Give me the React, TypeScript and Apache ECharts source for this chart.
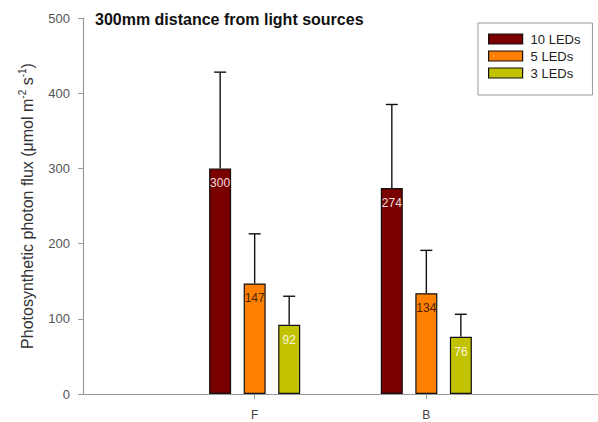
import React, { useEffect, useRef } from "react";
import * as echarts from "echarts";

const categories = ["", "F", "B", ""];
const seriesNames = ["10 LEDs", "5 LEDs", "3 LEDs"];
const leds10 = [null, 300, 274, null];
const leds5 = [null, 147, 134, null];
const leds3 = [null, 92, 76, null];
const err10 = [null, 428, 385, null];
const err5 = [null, 213, 191, null];
const err3 = [null, 130, 106, null];
const yTicks = [0, 100, 200, 300, 400, 500];

const colors = ["#7a0000", "#ff8000", "#c2c200"];
const labelColors = ["#f3dede", "#4a2200", "#f6f6dc"];
const offsets = [-34.5, 0, 34.5];
const FONT = "Liberation Sans, Arial, sans-serif";

export default function App() {
  const ref = useRef<HTMLDivElement>(null);
  useEffect(() => {
    if (!ref.current) return;
    const chart = echarts.init(ref.current, null, { renderer: "svg" });
    const values = [leds10, leds5, leds3];
    const errs = [err10, err5, err3];
    const barSeries = values.map((vals, si) => ({
      type: "bar",
      name: seriesNames[si],
      data: vals,
      barWidth: 22,
      barGap: "57%",
      itemStyle: { color: colors[si], borderColor: "#111", borderWidth: 1.2 },
      label: {
        show: true,
        position: "insideTop",
        distance: 9,
        color: labelColors[si],
        fontSize: 12,
        fontFamily: FONT,
      },
      z: 2,
    }));
    const errSeries = values.map((vals, si) => ({
      type: "custom",
      name: "err" + si,
      data: vals
        .map((v, i) => (v == null ? null : [i, v, errs[si][i]]))
        .filter((d) => d !== null),
      renderItem: (params: any, api: any) => {
        const idx = api.value(0);
        const base = api.coord([idx, api.value(1)]);
        const top = api.coord([idx, api.value(2)]);
        const x = base[0] + offsets[si];
        return {
          type: "group",
          children: [
            {
              type: "line",
              shape: { x1: x, y1: base[1], x2: x, y2: top[1] },
              style: { stroke: "#111", lineWidth: 1.4 },
            },
            {
              type: "line",
              shape: { x1: x - 6, y1: top[1], x2: x + 6, y2: top[1] },
              style: { stroke: "#111", lineWidth: 1.4 },
            },
          ],
        };
      },
      z: 3,
      silent: true,
    }));
    chart.setOption({
      animation: false,
      backgroundColor: "#ffffff",
      title: {
        text: "300mm distance from light sources",
        left: 95,
        top: 11,
        padding: 0,
        textStyle: { fontSize: 16, fontWeight: "bold", color: "#111", fontFamily: FONT },
      },
      legend: {
        data: seriesNames,
        orient: "vertical",
        left: 478,
        top: 23,
        itemWidth: 34,
        itemHeight: 10,
        itemGap: 3,
        icon: "rect",
        padding: [9, 12, 15, 10],
        borderColor: "#999",
        borderWidth: 1,
        textStyle: { fontSize: 13, color: "#222", fontFamily: FONT, lineHeight: 14, padding: [0, 0, 0, 3] },
        itemStyle: { borderColor: "#111", borderWidth: 1.2 },
      },
      grid: { left: 83, top: 18, bottom: 28, width: 522 },
      xAxis: {
        type: "category",
        data: categories,
        boundaryGap: false,
        axisLine: { lineStyle: { color: "#999", width: 1.2 } },
        axisTick: { interval: (i: number) => i === 1 || i === 2, length: 5, lineStyle: { color: "#999" } },
        axisLabel: { interval: (i: number) => i === 1 || i === 2, fontSize: 12, color: "#444", margin: 15, fontFamily: FONT },
      },
      yAxis: {
        type: "value",
        min: yTicks[0],
        max: yTicks[yTicks.length - 1],
        interval: 100,
        axisLine: { show: true, lineStyle: { color: "#999", width: 1.2 } },
        axisTick: { show: true, length: 5, lineStyle: { color: "#999" } },
        splitLine: { show: false },
        axisLabel: { fontSize: 13, color: "#555", margin: 13, fontFamily: FONT },
        name: "Photosynthetic photon flux (μmol m{sup|-2} s{sup|-1})",
        nameLocation: "middle",
        nameRotate: 90,
        nameGap: 46,
        nameTextStyle: {
          fontSize: 16,
          color: "#333",
          fontFamily: FONT,
          lineHeight: 20,
          rich: {
            sup: { fontSize: 10, verticalAlign: "top", lineHeight: 20, color: "#333", fontFamily: FONT },
          },
        },
      },
      series: [...barSeries, ...errSeries],
    });
    return () => chart.dispose();
  }, []);
  return (
    <div
      ref={ref}
      style={{ position: "fixed", left: 0, top: 0, width: 598, height: 422 }}
    />
  );
}
